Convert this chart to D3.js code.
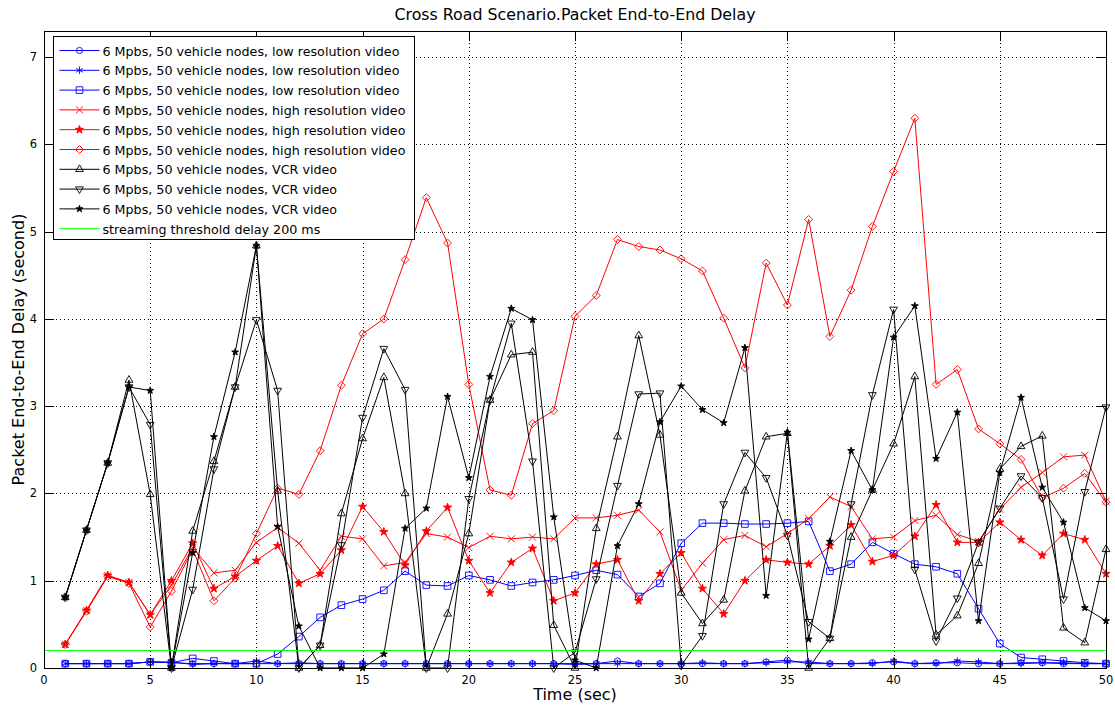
<!DOCTYPE html>
<meta charset="utf-8">
<style>

body{
  margin: 0px;
  background: white;
  font-family: "DejaVu Sans", Verdana, sans-serif;
}

svg{
  display: block;
}

.grid line{
  stroke: #000;
  stroke-dasharray: 1,3;
  stroke-width: 1;
  shape-rendering: crispEdges;
}

.tick-label{
  font-size: 11.5px;
  fill: #000;
}

.series path.line{
  fill: none;
  stroke-width: 1;
}

</style>

<div id='graph'></div>

<script src="https://cdn.jsdelivr.net/npm/d3@7"></script>
<script>
  var time = [1,2,3,4,5,6,7,8,9,10,11,12,13,14,15,16,17,18,19,20,21,22,23,24,25,
              26,27,28,29,30,31,32,33,34,35,36,37,38,39,40,41,42,43,44,45,46,47,48,49,50]

  var xTicks = [0,5,10,15,20,25,30,35,40,45,50]
  var yTicks = [0,1,2,3,4,5,6,7]

  // low resolution video (blue)
  var lowCircle = [0.05,0.05,0.05,0.05,0.07,0.06,0.05,0.05,0.05,0.05,0.05,0.05,0.05,0.05,0.05,0.05,0.05,0.05,0.05,0.05,
                   0.05,0.05,0.05,0.05,0.05,0.05,0.08,0.05,0.05,0.05,0.05,0.05,0.05,0.07,0.09,0.05,0.05,0.05,0.06,0.07,
                   0.05,0.06,0.06,0.05,0.05,0.06,0.06,0.05,0.05,0.05]
  var lowStar = [0.05,0.05,0.05,0.05,0.07,0.07,0.04,0.05,0.05,0.08,0.05,0.06,0.05,0.05,0.05,0.05,0.05,0.05,0.05,0.05,
                 0.05,0.05,0.05,0.05,0.04,0.05,0.05,0.05,0.05,0.05,0.06,0.05,0.05,0.06,0.07,0.07,0.05,0.05,0.05,0.08,
                 0.05,0.05,0.08,0.07,0.05,0.05,0.06,0.06,0.05,0.05]
  var lowSquare = [0.05,0.05,0.05,0.05,0.07,0.06,0.11,0.08,0.05,0.05,0.16,0.36,0.58,0.72,0.79,0.89,1.11,0.95,0.94,1.06,
                   1.01,0.94,0.98,1.01,1.06,1.12,1.07,0.82,0.97,1.43,1.66,1.66,1.65,1.65,1.66,1.68,1.11,1.19,1.44,1.31,
                   1.19,1.16,1.08,0.68,0.28,0.12,0.10,0.08,0.06,0.05]

  // high resolution video (red)
  var highCross = [0.27,0.66,1.06,0.98,0.61,0.95,1.38,1.09,1.12,1.44,1.61,1.43,1.12,1.51,1.48,1.17,1.21,1.54,1.50,1.38,
                   1.51,1.48,1.50,1.48,1.72,1.72,1.75,1.81,1.56,0.89,1.20,1.47,1.52,1.39,1.54,1.71,1.96,1.85,1.48,1.50,
                   1.69,1.75,1.53,1.45,1.82,2.07,2.24,2.42,2.44,1.91]
  var highStar = [0.27,0.66,1.06,0.98,0.61,1.00,1.43,0.91,1.05,1.23,1.40,0.97,1.08,1.35,1.85,1.56,1.18,1.57,1.84,1.23,
                  0.86,1.21,1.37,0.77,0.86,1.19,1.24,0.77,1.08,1.32,0.91,0.62,1.00,1.24,1.21,1.19,1.40,1.64,1.22,1.29,
                  1.51,1.87,1.44,1.44,1.67,1.47,1.29,1.54,1.47,1.08]
  var highDiamond = [0.27,0.65,1.05,0.97,0.47,0.88,1.36,0.77,1.03,1.54,2.06,1.99,2.49,3.24,3.83,4.00,4.68,5.39,4.87,3.25,
                     2.04,1.98,2.80,2.95,4.03,4.27,4.91,4.83,4.79,4.69,4.55,4.01,3.44,4.64,4.16,5.14,3.80,4.33,5.06,5.69,
                     6.30,3.25,3.42,2.74,2.57,2.39,1.95,2.06,2.23,1.90]

  // VCR video (black)
  var vcrUp = [0.81,1.58,2.35,3.30,1.99,0.00,1.57,2.37,3.22,4.84,2.03,0.00,0.26,1.77,2.63,3.33,2.00,0.00,0.62,1.54,
               3.07,3.59,3.62,0.49,0.00,1.60,2.65,3.81,2.67,0.86,0.51,0.78,2.03,2.65,2.69,0.00,0.34,1.50,2.04,2.57,
               3.34,0.38,0.60,1.20,2.28,2.54,2.66,0.46,0.29,1.36]
  var vcrDown = [0.81,1.58,2.35,3.22,2.79,0.00,0.90,2.28,3.22,3.99,3.18,0.00,0.26,1.41,2.87,3.66,3.19,0.00,0.00,1.94,
                 3.07,3.95,2.37,0.00,0.18,1.02,2.09,3.14,3.15,0.03,0.37,1.88,2.47,2.18,1.52,0.53,0.34,1.88,3.13,4.11,
                 1.13,0.31,0.80,1.44,1.83,2.20,1.95,0.79,2.02,2.99]
  var vcrStar = [0.81,1.58,2.35,3.22,3.18,0.00,1.32,2.65,3.62,4.84,1.62,0.48,0.00,0.00,0.00,0.16,1.60,1.83,3.11,2.18,
                 3.34,4.12,3.99,1.73,0.09,0.00,1.40,1.88,2.82,3.23,2.96,2.81,3.67,0.83,2.70,0.33,1.45,2.49,2.04,3.79,
                 4.15,2.40,2.93,0.54,2.24,3.10,2.07,1.67,0.69,0.54]

  var threshold = 0.2

  var labels = ['6 Mpbs, 50 vehicle nodes, low resolution video',
                '6 Mpbs, 50 vehicle nodes, low resolution video',
                '6 Mpbs, 50 vehicle nodes, low resolution video',
                '6 Mpbs, 50 vehicle nodes, high resolution video',
                '6 Mpbs, 50 vehicle nodes, high resolution video',
                '6 Mpbs, 50 vehicle nodes, high resolution video',
                '6 Mpbs, 50 vehicle nodes, VCR video',
                '6 Mpbs, 50 vehicle nodes, VCR video',
                '6 Mpbs, 50 vehicle nodes, VCR video',
                'streaming threshold delay 200 ms']

  var series = [
    {values: lowCircle,   color: '#0000ff', marker: 'o'},
    {values: lowStar,     color: '#0000ff', marker: '*'},
    {values: lowSquare,   color: '#0000ff', marker: 's'},
    {values: highCross,   color: '#ff0000', marker: 'x'},
    {values: highStar,    color: '#ff0000', marker: 'p'},
    {values: highDiamond, color: '#ff0000', marker: 'd'},
    {values: vcrUp,       color: '#000000', marker: '^'},
    {values: vcrDown,     color: '#000000', marker: 'v'},
    {values: vcrStar,     color: '#000000', marker: 'h'}
  ]

  var W = 1115, H = 706
  var margin = {top: 31, right: 9, bottom: 38, left: 44}
  var width = W - margin.left - margin.right,
      height = H - margin.top - margin.bottom

  var x = d3.scaleLinear().domain([0, 50]).range([0, width])
  var y = d3.scaleLinear().domain([0, 7.3]).range([height, 0])

  var svg = d3.select('#graph').append('svg')
      .attr('width', W)
      .attr('height', H)

  var g = svg.append('g')
      .attr('transform', 'translate(' + margin.left + ',' + margin.top + ')')

  // dotted grid
  var grid = g.append('g').attr('class', 'grid')
  grid.selectAll('.vx').data(xTicks.slice(1, -1)).enter().append('line')
      .attr('x1', function(d){ return Math.round(x(d)) + .5 })
      .attr('x2', function(d){ return Math.round(x(d)) + .5 })
      .attr('y1', 0).attr('y2', height)
  grid.selectAll('.hy').data(yTicks.slice(1)).enter().append('line')
      .attr('y1', function(d){ return Math.round(y(d)) + .5 })
      .attr('y2', function(d){ return Math.round(y(d)) + .5 })
      .attr('x1', 0).attr('x2', width)

  // symbols
  function markerPath(m){
    var s = d3.symbol()
    if (m == 'o') return s.type(d3.symbolCircle).size(30)()
    if (m == '*') return s.type(d3.symbolAsterisk).size(40)()
    if (m == 's') return s.type(d3.symbolSquare).size(44)()
    if (m == 'x') return s.type(d3.symbolTimes).size(34)()
    if (m == 'p') return s.type(d3.symbolStar).size(21)()
    if (m == 'd') return s.type(d3.symbolDiamond2).size(40)()
    if (m == '^' || m == 'v') return s.type(d3.symbolTriangle).size(26)()
    if (m == 'h') return s.type(d3.symbolStar).size(15)()
  }
  function markerFill(m, color){
    return (m == 'p' || m == 'h') ? color : 'none'
  }
  function markerRot(m){
    return m == 'v' ? ' rotate(180)' : ''
  }

  var line = d3.line()
      .x(function(d, i){ return x(time[i]) })
      .y(function(d){ return y(d) })

  var sg = g.selectAll('.series').data(series).enter().append('g')
      .attr('class', 'series')

  sg.append('path')
      .attr('class', 'line')
      .attr('d', function(d){ return line(d.values) })
      .style('stroke', function(d){ return d.color })

  sg.each(function(s){
    d3.select(this).selectAll('.mk').data(s.values).enter().append('path')
        .attr('class', 'mk')
        .attr('transform', function(d, i){
          return 'translate(' + x(time[i]) + ',' + y(d) + ')' + markerRot(s.marker)
        })
        .attr('d', markerPath(s.marker))
        .style('fill', markerFill(s.marker, s.color))
        .style('stroke', s.color)
        .style('stroke-width', .9)
  })

  // threshold
  g.append('line')
      .attr('x1', x(0)).attr('x2', x(50))
      .attr('y1', y(threshold)).attr('y2', y(threshold))
      .style('stroke', '#00ff00')
      .style('stroke-width', 1)

  // box + ticks
  g.append('rect')
      .attr('x', .5).attr('y', .5)
      .attr('width', width).attr('height', height)
      .style('fill', 'none').style('stroke', '#000').style('stroke-width', 1)
      .style('shape-rendering', 'crispEdges')

  var tl = 10
  var ticks = g.append('g').style('stroke', '#000').style('shape-rendering', 'crispEdges')
  xTicks.forEach(function(t){
    var px = Math.round(x(t)) + .5
    ticks.append('line').attr('x1', px).attr('x2', px).attr('y1', height).attr('y2', height - tl)
    ticks.append('line').attr('x1', px).attr('x2', px).attr('y1', 0).attr('y2', tl)
  })
  yTicks.forEach(function(t){
    var py = Math.round(y(t)) + .5
    ticks.append('line').attr('y1', py).attr('y2', py).attr('x1', 0).attr('x2', tl)
    ticks.append('line').attr('y1', py).attr('y2', py).attr('x1', width).attr('x2', width - tl)
  })

  g.selectAll('.xl').data(xTicks).enter().append('text')
      .attr('class', 'tick-label')
      .attr('x', function(d){ return x(d) })
      .attr('y', height + 16)
      .attr('text-anchor', 'middle')
      .text(function(d){ return d })

  g.selectAll('.yl').data(yTicks).enter().append('text')
      .attr('class', 'tick-label')
      .attr('x', -7)
      .attr('y', function(d){ return y(d) + 4 })
      .attr('text-anchor', 'end')
      .text(function(d){ return d })

  // titles
  svg.append('text')
      .attr('x', margin.left + width / 2).attr('y', 20)
      .attr('text-anchor', 'middle')
      .style('font-size', '15.8px')
      .text('Cross Road Scenario.Packet End-to-End Delay')

  svg.append('text')
      .attr('x', margin.left + width / 2).attr('y', 700)
      .attr('text-anchor', 'middle')
      .style('font-size', '16px')
      .text('Time (sec)')

  svg.append('text')
      .attr('transform', 'translate(24,' + (margin.top + height / 2) + ') rotate(-90)')
      .attr('text-anchor', 'middle')
      .style('font-size', '16px')
      .text('Packet End-to-End Delay (second)')

  // legend
  var legend = svg.append('g').attr('transform', 'translate(53.5,36.5)')
  legend.append('rect')
      .attr('width', 361).attr('height', 203)
      .style('fill', 'white').style('stroke', '#000')

  var items = series.concat([{color: '#00ff00', marker: null}])
  var li = legend.selectAll('.li').data(items).enter().append('g')
      .attr('transform', function(d, i){ return 'translate(0,' + (14 + i * 19.8) + ')' })

  li.append('line')
      .attr('x1', 6).attr('x2', 46)
      .style('stroke', function(d){ return d.color })
  li.filter(function(d){ return d.marker }).append('path')
      .attr('transform', function(d){ return 'translate(26,0)' + markerRot(d.marker) })
      .attr('d', function(d){ return markerPath(d.marker) })
      .style('fill', function(d){ return markerFill(d.marker, d.color) })
      .style('stroke', function(d){ return d.color })
      .style('stroke-width', .9)
  li.append('text')
      .attr('x', 49).attr('y', 5)
      .style('font-size', '12.7px')
      .text(function(d, i){ return labels[i] })
</script>
